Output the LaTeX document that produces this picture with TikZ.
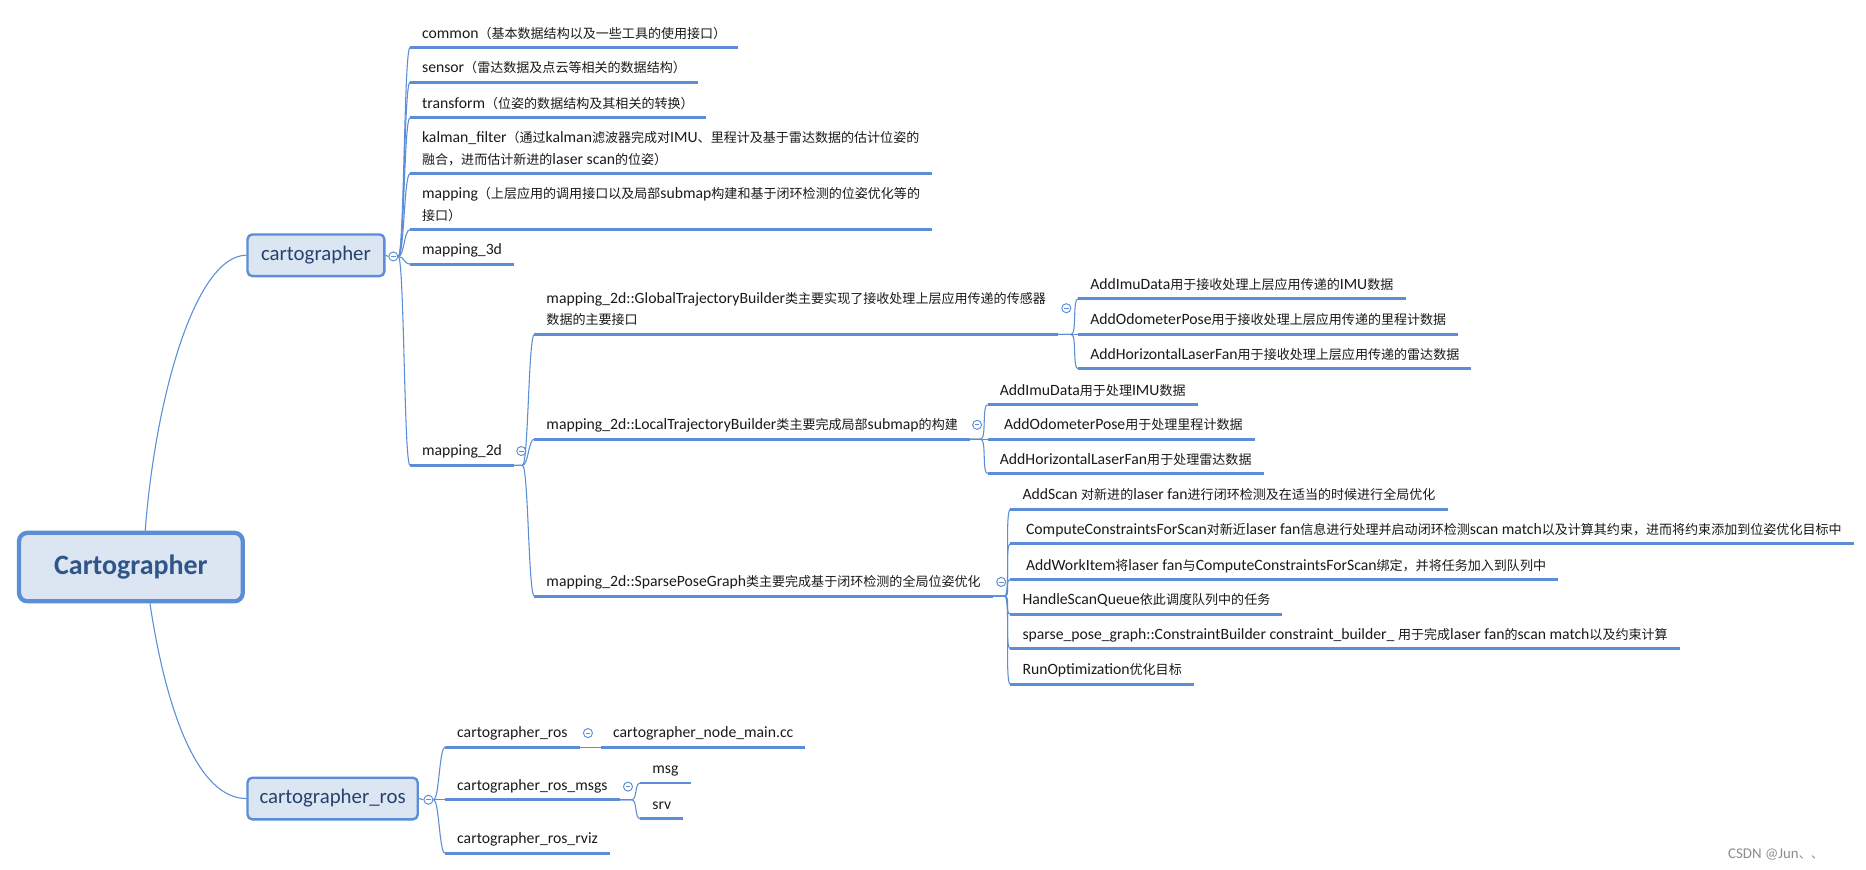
\documentclass[tikz,border=0pt]{standalone}
\usepackage{fontspec}
\setmainfont{Carlito}
\newfontfamily\cjk[Scale=0.83]{Noto Sans CJK SC}
\usetikzlibrary{calc,backgrounds}
\definecolor{lineblue}{HTML}{5B8ED6}
\definecolor{fillblue}{HTML}{DCE6F2}
\definecolor{boxtext}{HTML}{26426E}
\definecolor{roottext}{HTML}{2F5589}
\definecolor{bodytext}{HTML}{1A1A1A}
\newcommand\zh[1]{{\cjk #1}}
\newcommand\fs{\fontsize{13.2pt}{18pt}\selectfont}
\newcommand\tp[4]{\node[topic] (#1) at (#2,#3) {#4}; \draw[ul] (#1.south west) -- (#1.south east);}
\begin{document}
\begin{tikzpicture}[x=1pt,y=-1pt,
  conn/.style={draw=lineblue, line width=0.9pt},
  ul/.style={draw=lineblue, line width=2.4pt},
  topic/.style={font=\fs, text=bodytext, inner xsep=10pt, inner ysep=2.4pt, anchor=south west, align=left, execute at end node=\strut},
  box/.style={draw=lineblue, line width=2pt, fill=fillblue, rounded corners=4pt, minimum height=35pt, font=\fontsize{17.5pt}{21pt}\selectfont, text=boxtext, inner sep=0pt},
  collapse/.style={circle, draw=lineblue, fill=white, line width=0.8pt, minimum size=7.6pt, inner sep=0pt,
    path picture={\draw[lineblue, line width=0.7pt] ([xshift=-2pt]path picture bounding box.center) -- ([xshift=2pt]path picture bounding box.center);}},
  br/.style={to path={-- ++(#1,0) .. controls +(5,0) and +(-5,0) .. (\tikztotarget)}}
]
\useasboundingbox (0,0) rectangle (1568,731);

% main boxes
\node[draw=lineblue, line width=3.6pt, fill=fillblue, rounded corners=7pt, minimum width=188pt, minimum height=57.5pt,
  font=\fontsize{23.5pt}{28pt}\selectfont\bfseries, text=roottext] (root) at (110,476.5) {Cartographer};
\node[box, minimum width=115pt] (cg) at (265.5,214.5) {cartographer};
\node[box, minimum width=143pt] (cgr) at (279.5,671) {cartographer\_ros};

% cartographer children
\tp{common}{344.5}{40}{common\zh{（基本数据结构以及一些工具的使用接口）}}
\tp{sensor}{344.5}{69}{sensor\zh{（雷达数据及点云等相关的数据结构）}}
\tp{transform}{344.5}{99}{transform\zh{（位姿的数据结构及其相关的转换）}}
\tp{kalman}{344.5}{146}{kalman\_filter\zh{（通过}kalman\zh{滤波器完成对}IMU\zh{、里程计及基于雷达数据的估计位姿的}\\\zh{融合，进而估计新进的}laser scan\zh{的位姿）}}
\tp{mapping}{344.5}{193}{mapping\zh{（上层应用的调用接口以及局部}submap\zh{构建和基于闭环检测的位姿优化等的}\\\zh{接口）}}
\tp{m3d}{344.5}{222}{mapping\_3d}
\tp{m2d}{344.5}{391}{mapping\_2d}

% mapping_2d children
\tp{gtb}{449}{281}{mapping\_2d::GlobalTrajectoryBuilder\zh{类主要实现了接收处理上层应用传递的传感器}\\\zh{数据的主要接口}}
\tp{ltb}{449}{369}{mapping\_2d::LocalTrajectoryBuilder\zh{类主要完成局部}submap\zh{的构建}}
\tp{spg}{449}{501}{mapping\_2d::SparsePoseGraph\zh{类主要完成基于闭环检测的全局位姿优化}}

% GlobalTrajectoryBuilder children
\tp{gimu}{906}{251}{AddImuData\zh{用于接收处理上层应用传递的}IMU\zh{数据}}
\tp{godo}{906}{281}{AddOdometerPose\zh{用于接收处理上层应用传递的里程计数据}}
\tp{glaser}{906}{310}{AddHorizontalLaserFan\zh{用于接收处理上层应用传递的雷达数据}}

% LocalTrajectoryBuilder children
\tp{limu}{830}{340}{AddImuData\zh{用于处理}IMU\zh{数据}}
\tp{lodo}{830}{369}{\hspace{3.5pt}AddOdometerPose\zh{用于处理里程计数据}}
\tp{llaser}{830}{398}{AddHorizontalLaserFan\zh{用于处理雷达数据}}

% SparsePoseGraph children
\tp{sadd}{849}{428}{AddScan \zh{对新进的}laser fan\zh{进行闭环检测及在适当的时候进行全局优化}}
\tp{scomp}{849}{457}{\hspace{3pt}ComputeConstraintsForScan\zh{对新近}laser fan\zh{信息进行处理并启动闭环检测}scan match\zh{以及计算其约束，进而将约束添加到位姿优化目标中}}
\tp{swork}{849}{487}{\hspace{3pt}AddWorkItem\zh{将}laser fan\zh{与}ComputeConstraintsForScan\zh{绑定，并将任务加入到队列中}}
\tp{shandle}{849}{516}{HandleScanQueue\zh{依此调度队列中的任务}}
\tp{sbuild}{849}{545}{sparse\_pose\_graph::ConstraintBuilder constraint\_builder\_ \zh{用于完成}laser fan\zh{的}scan match\zh{以及约束计算}}
\tp{sopt}{849}{575}{RunOptimization\zh{优化目标}}

% cartographer_ros children
\tp{cros}{374}{628}{cartographer\_ros}
\tp{cnode}{505}{628}{cartographer\_node\_main.cc}
\tp{cmsgs}{374}{672}{cartographer\_ros\_msgs}
\tp{msg}{538}{658}{msg}
\tp{srv}{538}{688}{srv}
\tp{rviz}{374}{717}{cartographer\_ros\_rviz}

% collapse markers
\node[collapse] (c1) at (330.5,215.5) {};
\node[collapse] (c6) at (360,672) {};
\node[collapse] (c2) at ([shift={(6,-12)}]m2d.south east) {};
\node[collapse] (c3) at ([shift={(7,-22)}]gtb.south east) {};
\node[collapse] (c4) at ([shift={(6,-12)}]ltb.south east) {};
\node[collapse] (c5) at ([shift={(7,-12)}]spg.south east) {};
\node[collapse] (c7) at ([shift={(7,-12)}]cros.south east) {};
\node[collapse] (c8) at ([shift={(7,-11)}]cmsgs.south east) {};

% watermark
\node[font=\fontsize{12.5pt}{14pt}\selectfont, text=black!45, anchor=west, inner sep=0pt] (wm) at (1452,718) {CSDN @Jun\zh{、、}};

\begin{scope}[on background layer]
\fill[white] (0,0) rectangle (1568,731);
\draw[conn] ([xshift=12pt]root.north) .. controls +(9,-116) and +(-42,0) .. (cg.west);
\draw[conn] ([xshift=16pt]root.south) .. controls +(14,93) and +(-40,0) .. (cgr.west);
\draw[conn] (cg.east) -- (c1.west);
\foreach \t in {common,sensor,transform,kalman,mapping,m3d,m2d}
  \draw[conn] (c1.east) to[br=0] (\t.south west);
\foreach \t in {gtb,ltb,spg}
  \draw[conn] (m2d.south east) to[br=7] (\t.south west);
\foreach \t in {gimu,godo,glaser}
  \draw[conn] (gtb.south east) to[br=11] (\t.south west);
\foreach \t in {limu,lodo,llaser}
  \draw[conn] (ltb.south east) to[br=9] (\t.south west);
\foreach \t in {sadd,scomp,swork,shandle,sbuild,sopt}
  \draw[conn] (spg.south east) to[br=10] (\t.south west);
\draw[conn] (cgr.east) -- (c6.west);
\foreach \t in {cros,cmsgs,rviz}
  \draw[conn] (c6.east) to[br=0] (\t.south west);
\draw[conn] (cros.south east) -- (cnode.south west);
\foreach \t in {msg,srv}
  \draw[conn] (cmsgs.south east) to[br=10] (\t.south west);
\end{scope}
\end{tikzpicture}
\end{document}
